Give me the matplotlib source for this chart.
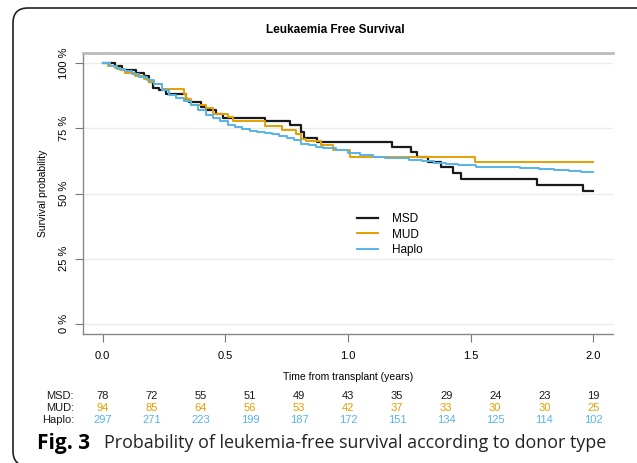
import matplotlib
matplotlib.use("Agg")
import matplotlib.pyplot as plt
import matplotlib.transforms as mtransforms
from matplotlib.patches import FancyBboxPatch

# Kaplan-Meier step points (time in years, survival)
msd_t = [0, 0.05, 0.08, 0.137, 0.167, 0.19, 0.205, 0.23, 0.26, 0.34, 0.35, 0.40, 0.42, 0.46, 0.49,
         0.66, 0.763, 0.81, 0.82, 0.872, 1.18, 1.257, 1.28, 1.327, 1.378, 1.426, 1.46, 1.77, 1.956, 2.0]
msd_s = [1.0, 0.99, 0.973, 0.963, 0.952, 0.93, 0.907, 0.897, 0.884, 0.865, 0.853, 0.833, 0.82, 0.807, 0.792,
         0.779, 0.762, 0.735, 0.715, 0.698, 0.679, 0.66, 0.641, 0.62, 0.60, 0.58, 0.556, 0.533, 0.51, 0.51]

mud_t = [0, 0.02, 0.05, 0.07, 0.09, 0.13, 0.17, 0.19, 0.21, 0.24, 0.33, 0.34, 0.36, 0.42, 0.45, 0.51,
         0.53, 0.66, 0.73, 0.79, 0.81, 0.83, 0.89, 0.94, 1.01, 1.516, 2.0]
mud_s = [1.0, 0.99, 0.982, 0.973, 0.964, 0.953, 0.94, 0.93, 0.922, 0.903, 0.884, 0.865, 0.842, 0.829, 0.807, 0.794,
         0.777, 0.759, 0.743, 0.727, 0.711, 0.70, 0.686, 0.669, 0.64, 0.62, 0.62]

haplo_t = [0, 0.03, 0.06, 0.09, 0.12, 0.15, 0.18, 0.21, 0.24, 0.27, 0.30, 0.33, 0.36, 0.39, 0.42, 0.45,
           0.48, 0.51, 0.54, 0.57, 0.60, 0.63, 0.66, 0.69, 0.72, 0.75, 0.78, 0.81, 0.84, 0.87, 0.90, 0.95,
           1.00, 1.05, 1.10, 1.15, 1.20, 1.25, 1.30, 1.35, 1.40, 1.45, 1.52, 1.60, 1.70, 1.78, 1.84, 1.90,
           1.95, 2.0]
haplo_s = [1.0, 0.99, 0.98, 0.97, 0.958, 0.947, 0.935, 0.922, 0.898, 0.88, 0.867, 0.855, 0.84, 0.822, 0.80, 0.79,
           0.78, 0.765, 0.757, 0.748, 0.742, 0.738, 0.732, 0.728, 0.72, 0.712, 0.707, 0.69, 0.686, 0.677, 0.675, 0.669,
           0.656, 0.648, 0.641, 0.638, 0.635, 0.63, 0.623, 0.616, 0.613, 0.61, 0.60, 0.60, 0.598, 0.596, 0.59, 0.588,
           0.584, 0.584]

# numbers at risk
risk_times = [0, 0.2, 0.4, 0.6, 0.8, 1.0, 1.2, 1.4, 1.6, 1.8, 2.0]
risk_msd = [78, 72, 55, 51, 49, 43, 35, 29, 24, 23, 19]
risk_mud = [94, 85, 64, 56, 53, 42, 37, 33, 30, 30, 25]
risk_haplo = [297, 271, 223, 199, 187, 172, 151, 134, 125, 114, 102]

groups = ["MSD", "MUD", "Haplo"]
colors = ["#1a1a1a", "#E69F00", "#56B4E9"]

xticks = [0, 0.5, 1.0, 1.5, 2.0]
yticks = [0, 0.25, 0.5, 0.75, 1.0]

plt.rcParams["font.family"] = ["Liberation Sans", "DejaVu Sans"]

W, H = 637, 463
fig = plt.figure(figsize=(W / 100, H / 100), dpi=100)
ax = fig.add_axes([83 / W, 1 - 334 / H, 530 / W, 281 / H])

curves = [(msd_t, msd_s), (mud_t, mud_s), (haplo_t, haplo_s)]
widths = [1.6, 1.4, 1.4]
for (t, s), g, c, lw in zip(curves, groups, colors, widths):
    ax.plot(t, s, drawstyle="steps-post", color=c, lw=lw, label=g)

ax.set_xlim(-0.08, 2.08)
ax.set_ylim(-0.04, 1.04)
ax.set_xticks(xticks)
ax.set_xticklabels([f"{v:.1f}" for v in xticks])
ax.set_yticks(yticks)
ax.set_yticklabels([f"{int(v * 100)} %" for v in yticks], rotation=90, va="center")
ax.yaxis.grid(True, color="#ebebeb", lw=1)
ax.set_axisbelow(True)

ax.spines["right"].set_visible(False)
ax.spines["top"].set_color("#bbbbbb")
ax.spines["top"].set_linewidth(2)
for side in ["left", "bottom"]:
    ax.spines[side].set_color("#888888")
    ax.spines[side].set_linewidth(1)
ax.tick_params(axis="x", direction="out", length=6, color="#777777", labelsize=8, pad=6)
ax.tick_params(axis="y", direction="out", length=6, color="#777777", labelsize=8, pad=4)

leg = ax.legend(loc="upper left", bbox_to_anchor=(357 / W, 1 - 213 / H), bbox_transform=fig.transFigure,
                frameon=False, fontsize=8.5, handlelength=1.8, handletextpad=1.2, labelspacing=0.3,
                borderpad=0, borderaxespad=0)

fig.text(335 / W, 1 - 30 / H, "Leukaemia Free Survival", ha="center", va="center", fontsize=8.5, fontweight="bold")
fig.text(43 / W, 1 - 193 / H, "Survival probability", ha="center", va="center", rotation=90, fontsize=7.5)
fig.text(348 / W, 1 - 377 / H, "Time from transplant (years)", ha="center", va="center", fontsize=7.5)

# risk table
blend = mtransforms.blended_transform_factory(ax.transData, fig.transFigure)
rows = [risk_msd, risk_mud, risk_haplo]
row_y = [396, 408, 420]
for g, c, vals, yy in zip(groups, colors, rows, row_y):
    fig.text(74 / W, 1 - yy / H, g + ":", ha="right", va="center", fontsize=8, color="#1a1a1a")
    for t, v in zip(risk_times, vals):
        fig.text(t, 1 - yy / H, str(v), ha="center", va="center", fontsize=8, color=c, transform=blend)

# caption
fig.text(37 / W, 1 - 443 / H, "Fig. 3", ha="left", va="center", fontsize=15, fontweight="bold",
         family=["Open Sans", "DejaVu Sans"])
cap = fig.text(104 / W, 1 - 443 / H, "Probability of leukemia-free survival according to donor type",
               ha="left", va="center", fontsize=13, family=["Open Sans", "DejaVu Sans"], color="#222222")
fig.canvas.draw()
bb = cap.get_window_extent()
cap.set_fontsize(13 * (501 / bb.width))

# rounded frame around the figure
frame = FancyBboxPatch((0.13, -0.03), 6.5, 4.58, boxstyle="round,pad=0,rounding_size=0.15",
                       transform=fig.dpi_scale_trans, fill=False, edgecolor="#222222", lw=1.2)
fig.patches.append(frame)

fig.savefig("out.png", dpi=100)
